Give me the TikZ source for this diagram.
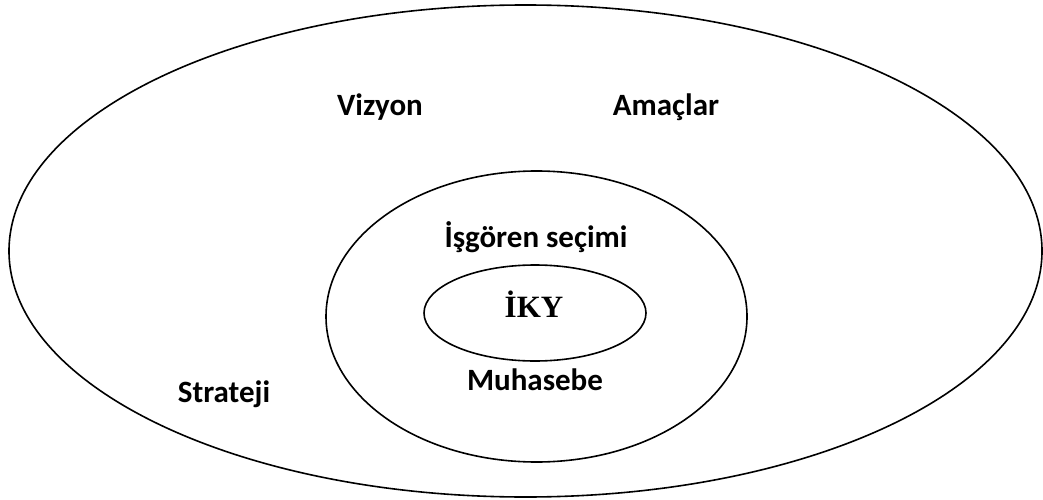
\documentclass[tikz,border=0pt]{standalone}
\usepackage{fontspec}
\setmainfont{Carlito}
\newfontfamily\serifbold{Liberation Serif}
\usetikzlibrary{shapes.geometric}
\begin{document}
\begin{tikzpicture}[x=1pt,y=-1pt,
  ring/.style={draw=black,line width=1.6pt,ellipse,inner sep=0pt,minimum width=#1},
  lbl/.style={anchor=base,inner sep=0pt,font=\fontsize{31}{36}\selectfont\bfseries}]
\useasboundingbox (0,0) rectangle (1043,500);
\node[ring=1033pt,minimum height=492pt] (outer) at (525.5,251) {};
\node[ring=421pt,minimum height=291pt] (middle) at (536.5,316.5) {};
\node[ring=222pt,minimum height=96pt] (inner) at (535,313) {};
\node[lbl] (vizyon) at (380,116) {Vizyon};
\node[lbl] (amaclar) at (666,116) {Amaçlar};
\node[lbl] (isgoren) at (536,247) {İşgören seçimi};
\node[lbl,font=\fontsize{31}{36}\serifbold\bfseries] (iky) at (534,317) {İKY};
\node[lbl] (muhasebe) at (535,390) {Muhasebe};
\node[lbl] (strateji) at (224,402) {Strateji};
\end{tikzpicture}
\end{document}
